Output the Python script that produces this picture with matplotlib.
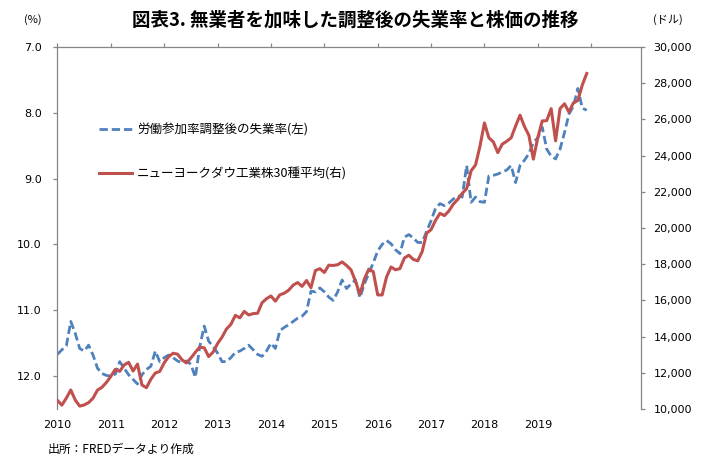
import matplotlib
matplotlib.use('Agg')
import matplotlib.pyplot as plt
from matplotlib.ticker import FuncFormatter
from matplotlib.font_manager import FontProperties
from matplotlib.lines import Line2D
import numpy as np

plt.rcParams['font.family'] = ['DejaVu Sans', 'Noto Sans CJK JP']

year_labels = ['2010', '2011', '2012', '2013', '2014', '2015', '2016', '2017', '2018', '2019', '']

# 労働参加率調整後の失業率 (%), monthly 2010-01 .. 2019-12
unemp_adj = [
    11.67, 11.60, 11.54, 11.17, 11.35, 11.58, 11.62, 11.53, 11.68, 11.88, 11.96, 11.99,
    12.00, 11.97, 11.78, 11.88, 11.98, 12.05, 12.12, 11.98, 11.90, 11.85, 11.62, 11.78,
    11.72, 11.68, 11.72, 11.77, 11.80, 11.77, 11.82, 12.02, 11.55, 11.24, 11.47, 11.55,
    11.65, 11.78, 11.78, 11.72, 11.64, 11.62, 11.58, 11.53, 11.60, 11.67, 11.70, 11.62,
    11.50, 11.58, 11.31, 11.26, 11.22, 11.17, 11.12, 11.09, 11.02, 10.71, 10.72, 10.66,
    10.72, 10.80, 10.85, 10.72, 10.54, 10.67, 10.60, 10.54, 10.81, 10.60, 10.44, 10.28,
    10.10, 10.00, 9.94, 9.99, 10.08, 10.14, 9.89, 9.85, 9.90, 9.97, 9.97, 9.80,
    9.64, 9.45, 9.38, 9.41, 9.37, 9.31, 9.26, 9.28, 8.80, 9.36, 9.28, 9.35,
    9.36, 8.96, 8.95, 8.93, 8.90, 8.87, 8.80, 9.06, 8.80, 8.72, 8.62, 8.45,
    8.38, 8.22, 8.55, 8.66, 8.70, 8.55, 8.30, 8.02, 7.90, 7.63, 7.93, 7.96,
]

# ニューヨークダウ工業株30種平均 (ドル), monthly 2010-01 .. 2019-12
djia = [
    10471, 10215, 10604, 11052, 10500, 10160, 10222, 10351, 10598, 11044, 11198, 11465,
    11802, 12190, 12081, 12434, 12580, 12098, 12479, 11327, 11175, 11644, 11987, 12076,
    12551, 12890, 13079, 13031, 12721, 12544, 12814, 13134, 13418, 13380, 12897, 13145,
    13616, 13968, 14418, 14676, 15173, 15036, 15390, 15196, 15270, 15290, 15871, 16095,
    16243, 15958, 16308, 16399, 16568, 16844, 16988, 16775, 17099, 16701, 17652, 17754,
    17542, 17945, 17931, 17970, 18124, 17928, 17691, 17061, 16339, 17182, 17723, 17590,
    16306, 16299, 17302, 17844, 17692, 17755, 18341, 18495, 18268, 18184, 18698, 19712,
    19908, 20419, 20812, 20684, 20938, 21317, 21582, 21914, 22173, 23159, 23485, 24524,
    25804, 24981, 24758, 24163, 24631, 24789, 24979, 25629, 26232, 25607, 25114, 23806,
    25000, 25916, 25929, 26593, 24815, 26600, 26864, 26403, 26917, 27046, 27900, 28538,
]

label_unemp = '労働参加率調整後の失業率(左)'
label_djia = 'ニューヨークダウ工業株30種平均(右)'

blue = '#4F81BD'
red = '#C0504D'
grey = '#868686'

W, H = 718, 465
fig = plt.figure(figsize=(W / 100, H / 100), dpi=100)
ax = fig.add_axes([57 / W, (H - 409) / H, 584 / W, 362 / H])
ax2 = ax.twinx()

months = np.arange(len(djia))

ax.plot(months, unemp_adj, color=blue, lw=2.0, linestyle=(0, (3.0, 1.4)),
        dash_capstyle='butt', solid_joinstyle='round')
ax2.plot(months, djia, color=red, lw=2.2, solid_joinstyle='round')

ax.set_xlim(-0.1, 131.2)
ax.set_ylim(12.5, 7.0)
ax.set_yticks([7, 8, 9, 10, 11, 12])
ax.yaxis.set_major_formatter(FuncFormatter(lambda v, p: f'{v:.1f}'))
ax.set_xticks(np.arange(0, 121, 12))
ax.set_xticklabels(year_labels)

ax2.set_ylim(10000, 30000)
ax2.set_yticks(np.arange(10000, 30001, 2000))
ax2.yaxis.set_major_formatter(FuncFormatter(lambda v, p: f'{v:,.0f}'))

for s in ['bottom', 'right']:
    ax.spines[s].set_visible(False)
for s in ['top', 'left']:
    ax.spines[s].set_color(grey)
    ax.spines[s].set_linewidth(0.9)
for s in ['top', 'bottom', 'left']:
    ax2.spines[s].set_visible(False)
ax2.spines['right'].set_color(grey)
ax2.spines['right'].set_linewidth(0.9)

ax.tick_params(axis='x', top=True, bottom=False, labeltop=False, labelbottom=True,
               direction='out', length=3, width=0.9, color=grey, pad=5, labelsize=8)
ax.tick_params(axis='y', direction='out', length=3, width=0.9, color=grey, pad=8, labelsize=8)
ax2.tick_params(axis='y', direction='out', length=3, width=0.9, color=grey, pad=6, labelsize=8)

jp = FontProperties(family=['Noto Sans CJK JP'], size=9)
handles = [Line2D([], [], color=blue, lw=2.0, linestyle=(0, (3.0, 1.4)), dash_capstyle='butt'),
           Line2D([], [], color=red, lw=2.2)]
leg = ax.legend(handles, [label_unemp, label_djia], loc='upper left',
                bbox_to_anchor=((99 - 57) / 584, 1 - (123 - 47) / 362),
                frameon=False, prop=jp, handlelength=2.6, handletextpad=0.45,
                labelspacing=2.5, borderpad=0, borderaxespad=0)

fig.text(355 / W, 1 - 20 / H, '図表3. 無業者を加味した調整後の失業率と株価の推移',
         ha='center', va='center', fontsize=13.3, fontweight='bold', family=['Noto Sans CJK JP'])
fig.text(33 / W, 1 - 20 / H, '(%)', ha='center', va='center', fontsize=8,
         family=['Noto Sans CJK JP'])
fig.text(668 / W, 1 - 20 / H, '(ドル)', ha='center', va='center', fontsize=8,
         family=['Noto Sans CJK JP'])
fig.text(48 / W, 1 - 449 / H, '出所：FREDデータより作成', ha='left', va='center', fontsize=8.5,
         family=['Noto Sans CJK JP'])

fig.savefig('out.png', dpi=100)
